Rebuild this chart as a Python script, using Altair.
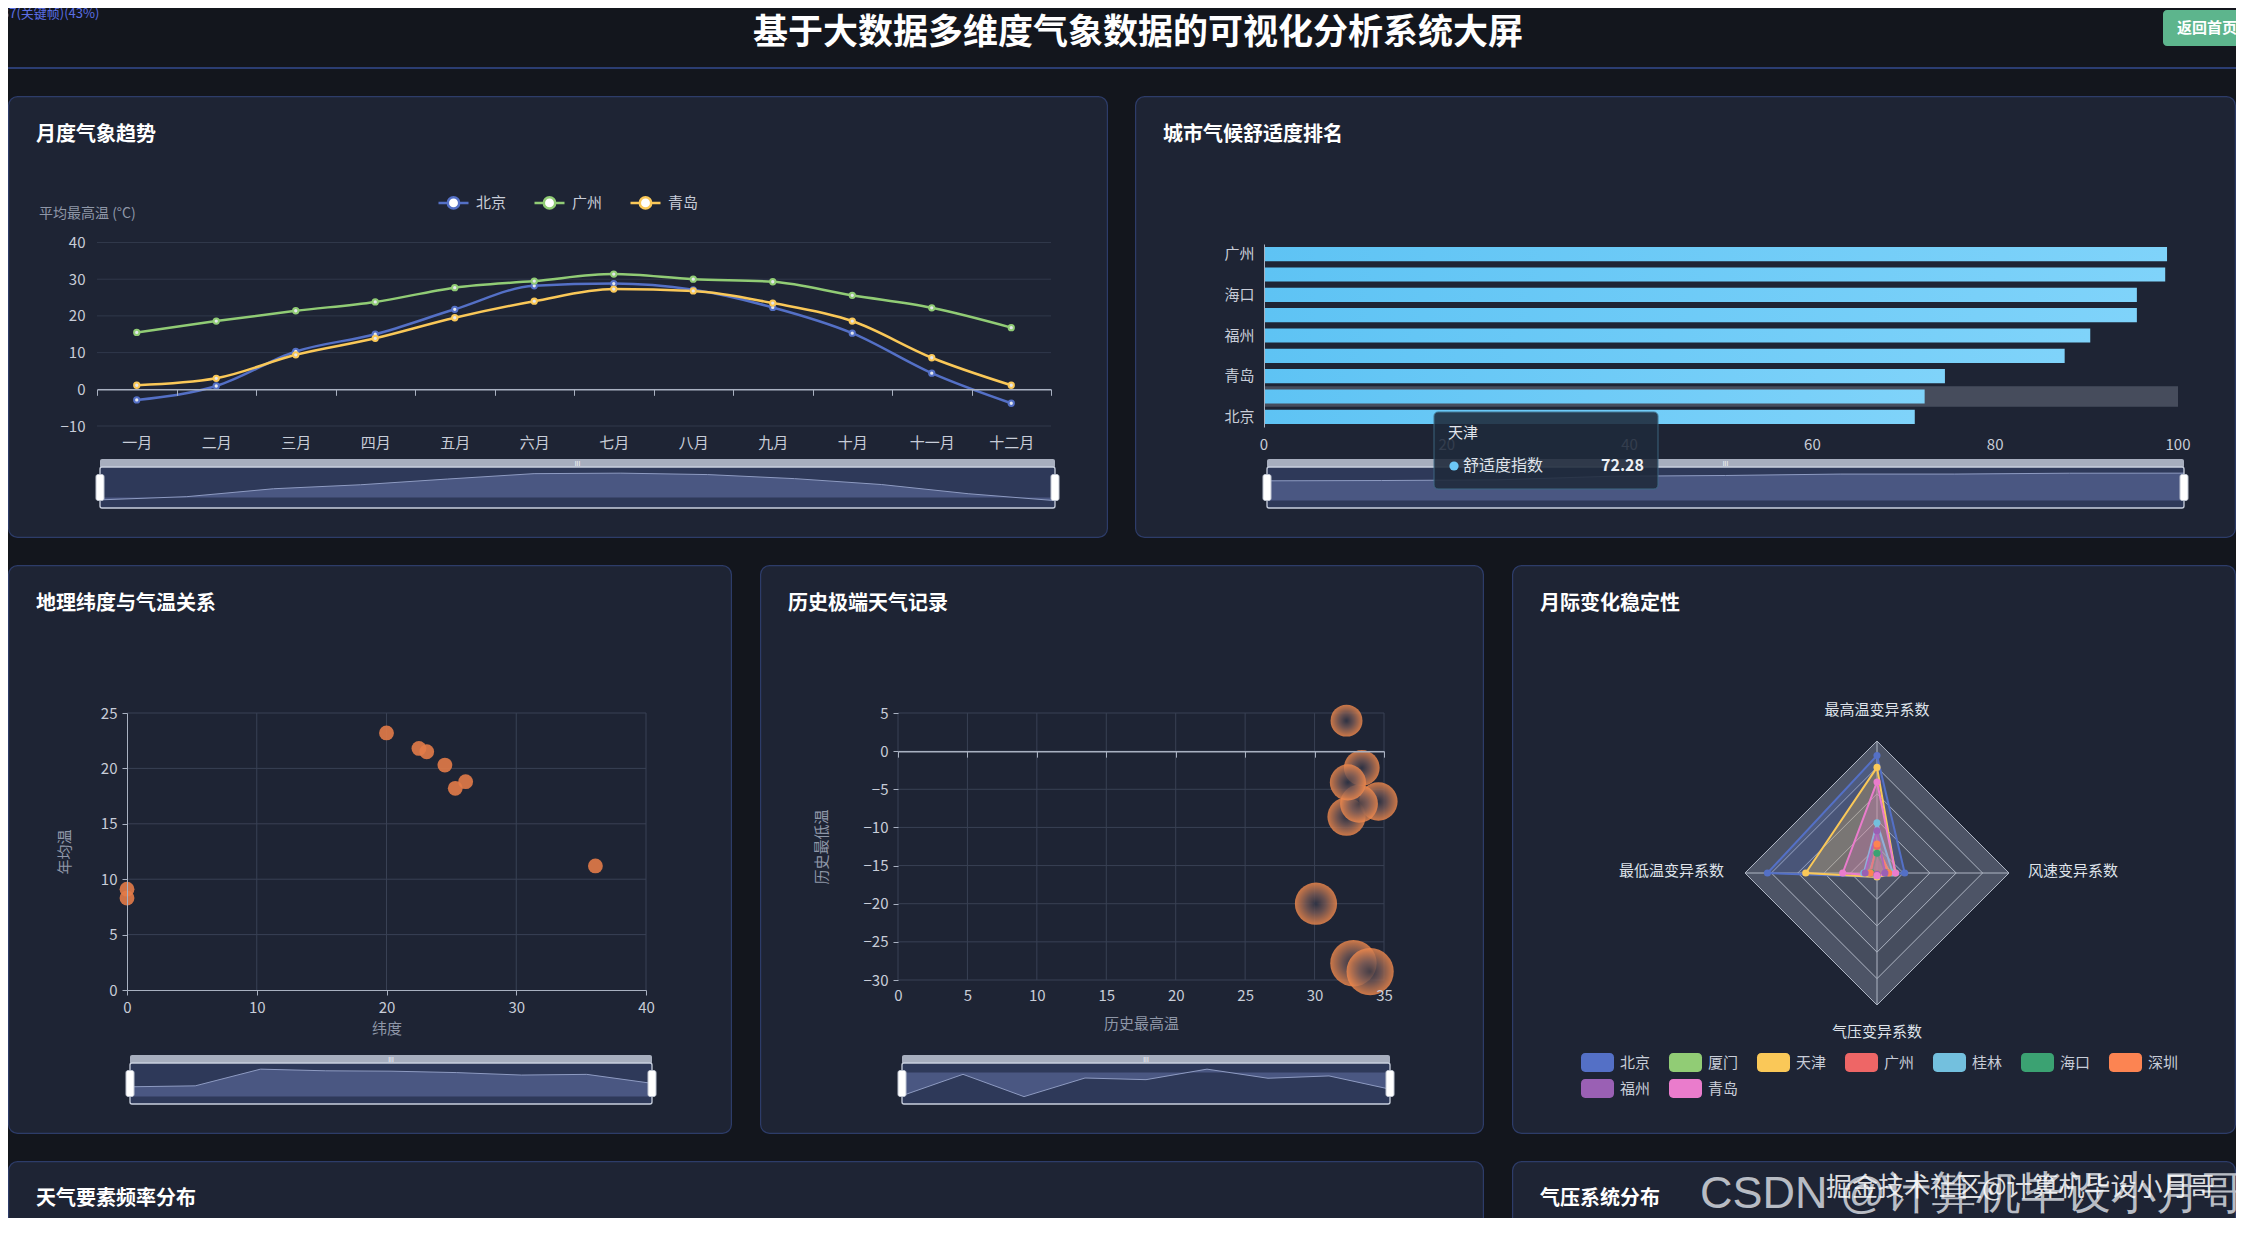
import altair as alt
import pandas as pd

FONT = "Noto Sans CJK SC"
BG = "#13161d"
PANEL = "#1e2434"
BORDER = "#2d3c69"
TXT = "#c8cdd8"
SUB = "#8f97a8"
GRID = "#30384a"
GRID2 = "#394154"
AXC = "#a9b1c1"
PALETTE = ["#5470c6", "#91cc75", "#fac858", "#ee6666", "#73c0de",
           "#3ba272", "#fc8452", "#9a60b4", "#ea7ccc"]

# ---------------- data ----------------
page_title = "基于大数据多维度气象数据的可视化分析系统大屏"
panel_titles = ["月度气象趋势", "城市气候舒适度排名", "地理纬度与气温关系",
                "历史极端天气记录", "月际变化稳定性", "天气要素频率分布", "气压系统分布"]

months = ["一月", "二月", "三月", "四月", "五月", "六月",
          "七月", "八月", "九月", "十月", "十一月", "十二月"]
trend_cities = ["北京", "广州", "青岛"]
beijing_tmax = [-2.9, 0.9, 10.3, 15.0, 21.8, 28.2, 28.8, 27.1, 22.3, 15.3, 4.4, -3.8]
guangzhou_tmax = [15.5, 18.6, 21.4, 23.8, 27.7, 29.5, 31.4, 30.0, 29.3, 25.6, 22.2, 16.8]
qingdao_tmax = [1.1, 3.0, 9.4, 13.9, 19.5, 24.0, 27.3, 26.8, 23.5, 18.6, 8.6, 1.1]
trend_ticks = [-10, 0, 10, 20, 30, 40]

rank_cities = ["广州", "深圳", "海口", "厦门", "福州", "桂林", "青岛", "天津", "北京"]
rank_scores = [98.8, 98.6, 95.5, 95.5, 90.4, 87.6, 74.5, 72.28, 71.2]
rank_labels_shown = ["广州", "海口", "福州", "青岛", "北京"]
rank_ticks = [0, 20, 40, 60, 80, 100]
hover_city = "天津"

lat_cities = ["北京", "天津", "海口", "深圳", "广州", "厦门", "桂林", "福州", "青岛"]
lat_deg = [0, 0, 20.0, 22.5, 23.1, 24.5, 25.3, 26.1, 36.1]
lat_temp = [8.3, 9.1, 23.2, 21.8, 21.5, 20.3, 18.2, 18.8, 11.2]
lat_xticks = [0, 10, 20, 30, 40]
lat_yticks = [0, 5, 10, 15, 20, 25]

ext_cities = ["北京", "广州", "天津", "桂林", "福州", "海口", "深圳", "厦门", "青岛"]
ext_high = [32.8, 33.4, 34.0, 34.6, 32.3, 32.3, 33.2, 32.4, 30.1]
ext_low = [-27.8, -2.2, -28.9, -6.6, -8.6, 4.0, -6.9, -4.1, -20.0]
ext_xticks = [0, 5, 10, 15, 20, 25, 30, 35]
ext_yticks = [-30, -25, -20, -15, -10, -5, 0, 5]

radar_cities = ["北京", "厦门", "天津", "广州", "桂林", "海口", "深圳", "福州", "青岛"]
radar_indicators = ["最高温变异系数", "最低温变异系数", "气压变异系数", "风速变异系数"]
cv_tmax = [0.89, 0.18, 0.80, 0.20, 0.38, 0.15, 0.22, 0.32, 0.69]
cv_tmin = [0.83, 0.06, 0.54, 0.05, 0.10, 0.04, 0.05, 0.09, 0.26]
cv_pres = [0.03, 0.01, 0.03, 0.01, 0.02, 0.01, 0.01, 0.01, 0.02]
cv_wind = [0.21, 0.10, 0.14, 0.08, 0.12, 0.07, 0.09, 0.06, 0.14]
radar_levels = [1.0, 0.8, 0.6, 0.4, 0.2]

ONE = pd.DataFrame({"k": [0]})


# ---------------- helpers ----------------
def box(x, x2, y, y2, fill=None, stroke=None, sw=1.0, r=0, opacity=1.0, clip=False):
    kw = {"cornerRadius": r, "opacity": opacity, "fill": fill if fill else "transparent"}
    if stroke:
        kw["stroke"] = stroke
        kw["strokeWidth"] = sw
    if clip:
        kw["clip"] = True
    return alt.Chart(ONE).mark_rect(**kw).encode(
        x=alt.value(x), x2=alt.value(x2), y=alt.value(y), y2=alt.value(y2))


def txt(s, x, y, size=15, color=TXT, weight="normal", align="left",
        baseline="middle", opacity=1.0, clip=False, font=FONT):
    kw = dict(align=align, baseline=baseline, fontSize=size, fontWeight=weight,
              color=color, font=font, opacity=opacity)
    if clip:
        kw["clip"] = True
    return alt.Chart(pd.DataFrame({"s": [s]})).mark_text(**kw).encode(
        text="s:N", x=alt.value(x), y=alt.value(y))


def ax(**kw):
    base = dict(labelFont=FONT, labelFontSize=15, labelColor=TXT, titleFont=FONT,
                titleFontSize=15, titleColor=SUB, titleFontWeight="normal",
                grid=False, zindex=1, domainColor=AXC, tickColor=AXC, labelFlush=False)
    base.update(kw)
    return alt.Axis(**base)


def panel_bg(PW, PH):
    return box(0.6, PW - 0.6, 0.6, PH - 0.6, fill=PANEL, stroke=BORDER, sw=1.2, r=9)


def panel_title(s):
    return txt(s, 28, 39, size=20, color="#ffffff", weight="bold")


def slider(x0, x1, y0, y1, values):
    bar_b = y0 + 8
    bh = y1 - bar_b
    mid = (bar_b + y1) / 2
    df = pd.DataFrame({"i": list(range(len(values))), "v": values})
    area = alt.Chart(df).mark_area(
        color="#4a5782", opacity=1,
        line=alt.OverlayMarkDef(color="#8e9bc2", strokeWidth=1)).encode(
        x=alt.X("i:Q", scale=alt.Scale(domain=[0, len(values) - 1], range=[x0, x1],
                                       nice=False, zero=False), axis=None),
        y=alt.Y("v:Q", scale=alt.Scale(zero=False, nice=False,
                                       range=[bar_b + 0.82 * bh, bar_b + 0.15 * bh]), axis=None),
        y2=alt.value(y1))
    return [
        box(x0, x1, y0, bar_b + 1, fill="#a7aebe", r=2),
        box(x0, x1, bar_b, y1, fill="#2e3959"),
        area,
        box(x0, x1, bar_b, y1, stroke="#c9d0de", sw=1.3, r=2),
        txt("III", (x0 + x1) / 2, y0 + 4.5, size=6, color="#ffffff", align="center"),
        box(x0 - 4, x0 + 4, mid - 13, mid + 13, fill="#ffffff", stroke="#c0c6d2", r=2),
        box(x1 - 4, x1 + 4, mid - 13, mid + 13, fill="#ffffff", stroke="#c0c6d2", r=2),
    ]


LINE_SYM = ("M-1,0H-0.38M0.38,0H1M-0.38,0A0.38,0.38,0,1,1,0.38,0"
            "A0.38,0.38,0,1,1,-0.38,0Z")
RRECT_SYM = ("M-0.75,-0.575H0.75A0.25,0.25,0,0,1,1,-0.325V0.325A0.25,0.25,0,0,1,0.75,0.575"
             "H-0.75A0.25,0.25,0,0,1,-1,0.325V-0.325A0.25,0.25,0,0,1,-0.75,-0.575Z")

# ---------------- header ----------------
HW, HH = 2228, 61
header = alt.layer(
    box(0, HW, 0, HH, fill=BG),
    box(0, HW, 59, 61, fill="#2b3d72"),
    txt(page_title, 1130, 25, size=35, color="#ffffff", weight="bold", align="center"),
    box(2155, 2240, 2, 38, fill="#5db58d", r=4, clip=True),
    txt("返回首页", 2169, 20, size=15, color="#ffffff", weight="bold", clip=True),
    txt("37(关键帧)(43%)", -6, 6, size=13, color="#5b6fe4", clip=True),
).properties(width=HW, height=HH)

# ---------------- panel 1: line chart ----------------
P1W, P1H = 1100, 442
X1 = [89, 1043]
Y1 = [330, 146.5]
trend_df = pd.DataFrame({
    "月份": months * 3,
    "城市": [c for c in trend_cities for _ in months],
    "最高温": beijing_tmax + guangzhou_tmax + qingdao_tmax})
xpt = alt.Scale(type="point", domain=months, padding=0.5, range=X1)
ysc1 = alt.Scale(domain=[-10, 40], nice=False, zero=False, range=Y1)
csc1 = alt.Scale(domain=trend_cities, range=PALETTE[:3])
zero_y1 = Y1[0] - (Y1[0] - Y1[1]) * 10 / 50

grid1 = alt.Chart(pd.DataFrame({"g": trend_ticks})).mark_rule(color=GRID, strokeWidth=1).encode(
    y=alt.Y("g:Q", scale=ysc1, axis=None), x=alt.value(X1[0]), x2=alt.value(X1[1]))
zero1 = alt.Chart(pd.DataFrame({"月份": months})).mark_tick(opacity=0).encode(
    x=alt.X("月份:N", sort=months,
            scale=alt.Scale(type="band", domain=months, paddingInner=0, paddingOuter=0, range=X1),
            axis=ax(title=None, orient="bottom", labels=False, domain=True, domainWidth=1.5,
                    ticks=True, tickSize=6, tickBand="extent", offset=-(P1H - zero_y1))),
    y=alt.value(zero_y1))
lines1 = alt.Chart(trend_df).mark_line(interpolate="monotone", strokeWidth=2.5).encode(
    x=alt.X("月份:N", sort=months, scale=xpt,
            axis=ax(title=None, orient="bottom", domain=False, ticks=False, labelPadding=9,
                    labelAngle=0, offset=-(P1H - Y1[0]))),
    y=alt.Y("最高温:Q", scale=ysc1,
            axis=ax(title=None, orient="left", values=trend_ticks, domain=False, ticks=False,
                    labelPadding=12, offset=-X1[0])),
    color=alt.Color("城市:N", scale=csc1, sort=trend_cities, legend=alt.Legend(
        orient="none", legendX=429, legendY=90, direction="horizontal", title=None,
        symbolType=LINE_SYM, symbolSize=900, symbolStrokeWidth=2.5,
        symbolFillColor="#ffffff", labelFont=FONT, labelFontSize=15, labelColor=TXT,
        labelOffset=6, columnPadding=22)))
pts1 = alt.Chart(trend_df).mark_point(filled=False, fill="#e4e7ee", fillOpacity=1, size=28,
                                      strokeWidth=2, opacity=1).encode(
    x=alt.X("月份:N", sort=months, scale=xpt, axis=None),
    y=alt.Y("最高温:Q", scale=ysc1, axis=None),
    color=alt.Color("城市:N", scale=csc1, legend=None))
panel1 = alt.layer(
    panel_bg(P1W, P1H), grid1, zero1, lines1, pts1,
    txt("平均最高温 (°C)", 31, 118, size=14, color=SUB),
    panel_title(panel_titles[0]),
    *slider(92, 1047, 363, 412, beijing_tmax),
).resolve_scale(x="independent", y="independent", color="independent").properties(
    width=P1W, height=P1H)

# ---------------- panel 2: bar ranking ----------------
P2W, P2H = 1101, 442
X2 = [129, 1043]
Y2 = [148, 331]
rank_df = pd.DataFrame({"城市": rank_cities, "舒适度指数": rank_scores})
xsc2 = alt.Scale(domain=[0, 100], nice=False, zero=True, range=X2)
ysc2 = alt.Scale(domain=rank_cities, paddingInner=0.3, paddingOuter=0.15, range=Y2)
shown = "[" + ",".join("'%s'" % c for c in rank_labels_shown) + "]"
grad = alt.LinearGradient(gradient="linear", x1=0, x2=1, y1=0, y2=0, stops=[
    alt.GradientStop(color="#5ec3f4", offset=0), alt.GradientStop(color="#7fd3fa", offset=1)])
hl2 = alt.Chart(rank_df).transform_filter(f"datum['城市'] == '{hover_city}'").transform_calculate(
    full="100").mark_bar(color="#464c5c").encode(
    y=alt.Y("城市:N", scale=alt.Scale(domain=rank_cities, paddingInner=0, paddingOuter=0,
                                      range=Y2), axis=None),
    x=alt.X("full:Q", scale=xsc2, axis=None))
bars2 = alt.Chart(rank_df).mark_bar(color=grad).encode(
    y=alt.Y("城市:N", sort=rank_cities, scale=ysc2,
            axis=ax(title=None, orient="left",
                    labelExpr=f"indexof({shown}, datum.value) >= 0 ? datum.label : ''",
                    domain=True, ticks=False, labelPadding=10, offset=-X2[0])),
    x=alt.X("舒适度指数:Q", scale=xsc2, axis=None))
xlab2 = alt.Chart(pd.DataFrame({"t": rank_ticks})).mark_text(
    font=FONT, fontSize=15, color=TXT, baseline="middle", align="center").encode(
    x=alt.X("t:Q", scale=xsc2, axis=None), y=alt.value(Y2[1] + 18), text="t:Q")
tip_val = rank_scores[rank_cities.index(hover_city)]
tooltip2 = [
    box(299, 523, 316, 393, fill="#1f2a3b", stroke="#3e6d88", sw=1, r=4, opacity=0.88),
    txt(hover_city, 313, 337, size=15, color="#e2e6ec"),
    alt.Chart(ONE).mark_circle(size=85, color="#6cc8f7", opacity=1).encode(
        x=alt.value(319), y=alt.value(370)),
    txt("舒适度指数", 328, 370, size=16, color="#dfe3ea"),
    txt(f"{tip_val:.2f}", 509, 370, size=16, color="#eef1f5", weight="bold", align="right"),
]
panel2 = alt.layer(
    panel_bg(P2W, P2H), hl2, bars2, xlab2,
    panel_title(panel_titles[1]),
    *slider(132, 1049, 363, 412, list(reversed(rank_scores))),
    *tooltip2,
).resolve_scale(x="independent", y="independent").properties(width=P2W, height=P2H)

# ---------------- panel 3: latitude scatter ----------------
P3W, P3H = 724, 569
X3 = [119, 638]
Y3 = [425, 148]
lat_df = pd.DataFrame({"城市": lat_cities, "纬度": lat_deg, "年均温": lat_temp})
xsc3 = alt.Scale(domain=[0, 40], nice=False, range=X3)
ysc3 = alt.Scale(domain=[0, 25], nice=False, range=Y3)
vgrid3 = alt.Chart(pd.DataFrame({"g": lat_xticks[1:]})).mark_rule(color=GRID2).encode(
    x=alt.X("g:Q", scale=xsc3, axis=None), y=alt.value(Y3[1]), y2=alt.value(Y3[0]))
hgrid3 = alt.Chart(pd.DataFrame({"g": lat_yticks[1:]})).mark_rule(color=GRID2).encode(
    y=alt.Y("g:Q", scale=ysc3, axis=None), x=alt.value(X3[0]), x2=alt.value(X3[1]))
pts3 = alt.Chart(lat_df).mark_circle(size=220, color="#e27b48", opacity=0.9).encode(
    x=alt.X("纬度:Q", scale=xsc3, axis=ax(title="纬度", orient="bottom", values=lat_xticks,
                                         tickSize=5, labelPadding=5, titlePadding=6,
                                         offset=-(P3H - Y3[0]))),
    y=alt.Y("年均温:Q", scale=ysc3, axis=ax(title="年均温", orient="left", values=lat_yticks,
                                          tickSize=5, labelPadding=5, titlePadding=28,
                                          offset=-X3[0])))
panel3 = alt.layer(
    panel_bg(P3W, P3H), vgrid3, hgrid3, pts3,
    panel_title(panel_titles[2]),
    *slider(122, 644, 490, 539, lat_temp),
).resolve_scale(x="independent", y="independent").properties(width=P3W, height=P3H)

# ---------------- panel 4: extreme bubbles ----------------
P4W, P4H = 724, 569
X4 = [138, 624]
Y4 = [415, 148]
ext_df = pd.DataFrame({"城市": ext_cities, "最高温": ext_high, "最低温": ext_low})
xsc4 = alt.Scale(domain=[0, 35], nice=False, range=X4)
ysc4 = alt.Scale(domain=[-30, 5], nice=False, range=Y4)
zero_y4 = Y4[1] + (Y4[0] - Y4[1]) * 5 / 35
vgrid4 = alt.Chart(pd.DataFrame({"g": ext_xticks})).mark_rule(color=GRID2).encode(
    x=alt.X("g:Q", scale=xsc4, axis=None), y=alt.value(Y4[1]), y2=alt.value(Y4[0]))
hgrid4 = alt.Chart(pd.DataFrame({"g": ext_yticks})).mark_rule(color=GRID2).encode(
    y=alt.Y("g:Q", scale=ysc4, axis=None), x=alt.value(X4[0]), x2=alt.value(X4[1]))
zero4 = alt.Chart(pd.DataFrame({"g": ext_xticks})).mark_tick(opacity=0).encode(
    x=alt.X("g:Q", scale=xsc4, axis=ax(title=None, orient="bottom", labels=False,
                                       values=ext_xticks, domain=True, domainWidth=1.5,
                                       ticks=True, tickSize=6, offset=-(P4H - zero_y4))),
    y=alt.value(zero_y4))
rg = alt.RadialGradient(gradient="radial", x1=0.5, y1=0.5, r1=0, x2=0.5, y2=0.5, r2=0.5, stops=[
    alt.GradientStop(color="#2f3446", offset=0),
    alt.GradientStop(color="#7a5a55", offset=0.45),
    alt.GradientStop(color="#f38a4c", offset=1)])
bub4 = alt.Chart(ext_df).transform_calculate(span="datum['最高温'] - datum['最低温']").mark_circle(
    color=rg, opacity=0.82).encode(
    x=alt.X("最高温:Q", scale=xsc4, axis=ax(title="历史最高温", orient="bottom",
                                         values=ext_xticks, domain=False, ticks=False,
                                         labelPadding=8, titlePadding=13,
                                         offset=-(P4H - Y4[0]))),
    y=alt.Y("最低温:Q", scale=ysc4, axis=ax(title="历史最低温", orient="left",
                                         values=ext_yticks, domain=False, ticks=True,
                                         tickSize=5, labelPadding=5, titlePadding=34,
                                         offset=-X4[0])),
    size=alt.Size("span:Q", scale=alt.Scale(domain=[28.3, 62.9], range=[1018, 2231], zero=False),
                  legend=None))
panel4 = alt.layer(
    panel_bg(P4W, P4H), vgrid4, hgrid4, bub4, zero4,
    panel_title(panel_titles[3]),
    *slider(142, 630, 490, 539, ext_low),
).resolve_scale(x="independent", y="independent").properties(width=P4W, height=P4H)

# ---------------- panel 5: radar ----------------
P5W, P5H = 724, 569
CX, CY, R5 = 365, 308, 132
rx = alt.Scale(domain=[-1, 1], nice=False, zero=False, range=[CX - R5, CX + R5])
ry = alt.Scale(domain=[-1, 1], nice=False, zero=False, range=[CY + R5, CY - R5])
rows = []
for ci, c in enumerate(radar_cities):
    for k, arr in enumerate([cv_tmax, cv_tmin, cv_pres, cv_wind]):
        rows.append({"城市": c, "指标": radar_indicators[k], "k": k, "v": arr[ci]})
radar_df = pd.DataFrame(rows)
ring_df = pd.DataFrame({"li": [i for i in range(len(radar_levels)) for _ in range(4)],
                        "level": [lv for lv in radar_levels for _ in range(4)],
                        "k": [k for _ in radar_levels for k in range(4)]})
PX = "cos(PI/2 + datum.k*PI/2)"
PY = "sin(PI/2 + datum.k*PI/2)"
ring_layers = []
for i in range(len(radar_levels)):
    ring_layers.append(
        alt.Chart(ring_df).transform_filter(f"datum.li == {i}").transform_calculate(
            px=f"datum.level*{PX}", py=f"datum.level*{PY}").mark_line(
            interpolate="linear-closed", fill="#4d5466" if i % 2 == 0 else "#464d5e",
            fillOpacity=1, stroke="#aeb5c3", strokeWidth=1).encode(
            x=alt.X("px:Q", scale=rx, axis=None), y=alt.Y("py:Q", scale=ry, axis=None),
            order="k:Q"))
spokes = alt.Chart(pd.DataFrame({"k": [0, 1, 2, 3]})).transform_calculate(
    x0="0", y0="0", px=PX, py=PY).mark_rule(color="#aeb5c3", strokeWidth=1).encode(
    x=alt.X("x0:Q", scale=rx, axis=None), y=alt.Y("y0:Q", scale=ry, axis=None),
    x2="px:Q", y2="py:Q")
series_layers = []
for ci, c in enumerate(radar_cities):
    series_layers.append(
        alt.Chart(radar_df).transform_filter(f"datum['城市'] == '{c}'").transform_calculate(
            px=f"datum.v*{PX}", py=f"datum.v*{PY}").mark_line(
            interpolate="linear-closed", stroke=PALETTE[ci], strokeWidth=2,
            fill=PALETTE[ci], fillOpacity=0.25).encode(
            x=alt.X("px:Q", scale=rx, axis=None), y=alt.Y("py:Q", scale=ry, axis=None),
            order="k:Q"))
radar_pts = alt.Chart(radar_df).transform_calculate(
    px=f"datum.v*{PX}", py=f"datum.v*{PY}").mark_circle(size=50, opacity=1).encode(
    x=alt.X("px:Q", scale=rx, axis=None), y=alt.Y("py:Q", scale=ry, axis=None),
    color=alt.Color("城市:N", scale=alt.Scale(domain=radar_cities, range=PALETTE),
                    sort=radar_cities, legend=alt.Legend(
                        orient="none", legendX=69, legendY=481, direction="horizontal",
                        columns=7, title=None, symbolType=RRECT_SYM, symbolSize=1089,
                        symbolStrokeWidth=0, symbolOpacity=1, labelFont=FONT,
                        labelFontSize=15, labelColor=TXT, labelOffset=6,
                        columnPadding=18, rowPadding=0)))
radar_names = [
    txt(radar_indicators[0], CX, 145, color="#dfe3ea", align="center"),
    txt(radar_indicators[1], 212, 306, color="#dfe3ea", align="right"),
    txt(radar_indicators[2], CX, 467, color="#dfe3ea", align="center"),
    txt(radar_indicators[3], 516, 306, color="#dfe3ea", align="left"),
]
panel5 = alt.layer(
    panel_bg(P5W, P5H), *ring_layers, spokes, *series_layers, radar_pts,
    *radar_names, panel_title(panel_titles[4]),
).properties(width=P5W, height=P5H)

# ---------------- bottom row ----------------
P6W, P7W, PBH = 1476, 724, 57
panel6 = alt.layer(
    box(0.6, P6W - 0.6, 0.6, 95, fill=PANEL, stroke=BORDER, sw=1.2, r=9, clip=True),
    txt(panel_titles[5], 28, 38, size=20, color="#ffffff", weight="bold"),
).properties(width=P6W, height=PBH)
panel7 = alt.layer(
    box(0.6, P7W - 0.6, 0.6, 95, fill=PANEL, stroke=BORDER, sw=1.2, r=9, clip=True),
    txt(panel_titles[6], 28, 38, size=20, color="#ffffff", weight="bold"),
    txt("CSDN @计算机毕设小月哥", 188, 33, size=45, color="#d3d7de", opacity=0.85, clip=True,
        font="Liberation Sans"),
    txt("掘金技术社区@计算机毕设小月哥", 314, 27, size=26, color="#ffffff", opacity=0.85,
        clip=True),
).properties(width=P7W, height=PBH)

IND = dict(color="independent", size="independent")
row1 = alt.hconcat(panel1, panel2, spacing=27).resolve_scale(**IND)
row2 = alt.hconcat(panel3, panel4, panel5, spacing=28).resolve_scale(**IND)
row3 = alt.hconcat(panel6, panel7, spacing=28).resolve_scale(**IND)

chart = alt.vconcat(header, row1, row2, row3, spacing=27).resolve_scale(**IND).properties(
    padding=0, background=BG
).configure(font=FONT).configure_view(stroke="transparent", strokeWidth=0)

chart.save("out.html", embed_options={"renderer": "svg", "actions": False})
